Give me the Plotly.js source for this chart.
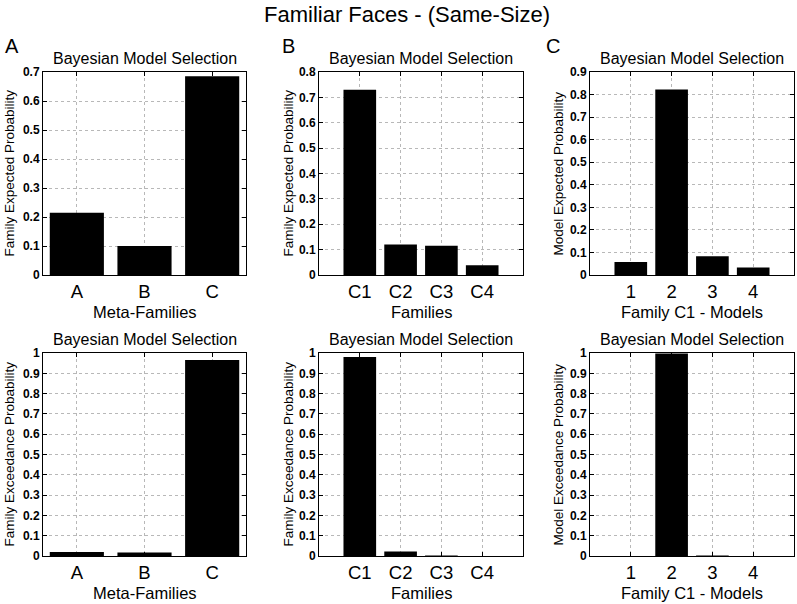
<!DOCTYPE html>
<html><head><meta charset="utf-8">
<script src="https://cdn.plot.ly/plotly-3.0.1.min.js"></script>
<style>html,body{margin:0;padding:0;background:#fff}</style>
</head><body><div id="chart" style="width:797px;height:604px"></div>
<script>
var metaFamilies = ["A", "B", "C"];
var families = ["C1", "C2", "C3", "C4"];
var models = ["1", "2", "3", "4"];
var metaExpected = [0.215, 0.10, 0.685];
var metaExceedance = [0.02, 0.017, 0.965];
var famExpected = [0.73, 0.12, 0.115, 0.038];
var famExceedance = [0.98, 0.022, 0.003, 0.0005];
var modExpected = [0.058, 0.822, 0.083, 0.033];
var modExceedance = [0.0, 0.998, 0.002, 0.0];

var W = 797, H = 604;
var FONT = "Liberation Sans, Arial, sans-serif";
function px(x){return x/W;}
function py(y){return 1 - y/H;}
var cols = [[43,246],[319,523],[590,794]];
var rows = [[72,275],[353,556]];

var panels = [
  {cats: metaFamilies, vals: metaExpected, ymax: 0.7, col:0, row:0, ytitle:"Family Expected Probability", xtitle:"Meta-Families"},
  {cats: families, vals: famExpected, ymax: 0.8, col:1, row:0, ytitle:"Family Expected Probability", xtitle:"Families"},
  {cats: models, vals: modExpected, ymax: 0.9, col:2, row:0, ytitle:"Model Expected Probability", xtitle:"Family C1 - Models"},
  {cats: metaFamilies, vals: metaExceedance, ymax: 1, col:0, row:1, ytitle:"Family Exceedance Probability", xtitle:"Meta-Families"},
  {cats: families, vals: famExceedance, ymax: 1, col:1, row:1, ytitle:"Family Exceedance Probability", xtitle:"Families"},
  {cats: models, vals: modExceedance, ymax: 1, col:2, row:1, ytitle:"Model Exceedance Probability", xtitle:"Family C1 - Models"}
];

var data = [], layout = {
  width: W, height: H, margin:{l:0,r:0,t:0,b:0}, showlegend:false,
  paper_bgcolor:"#fff", plot_bgcolor:"#fff", font:{family:FONT, color:"#000"},
  bargap: 0.2, annotations: []
};
var yTitleX = [9, 288, 558];
var letterX = [12, 288, 553];
panels.forEach(function(p, i){
  var n = i+1, xs = n===1?"":n, xa = "xaxis"+xs, ya = "yaxis"+xs;
  data.push({type:"bar", x:p.cats, y:p.vals, xaxis:"x"+xs, yaxis:"y"+xs,
    width:0.8, marker:{color:"#000", line:{color:"#000", width:0}}, hoverinfo:"x+y"});
  var c = cols[p.col], r = rows[p.row];
  var nc = p.cats.length;
  layout[xa] = {domain:[px(c[0]), px(c[1])], anchor:"y"+xs, type:"category",
    range: nc===3 ? [-0.5, 2.5] : [-1, 4],
    showline:true, mirror:"ticks", linecolor:"#000", linewidth:1,
    ticks:"inside", ticklen:4, tickcolor:"#000",
    showgrid:true, gridcolor:"#b8b8b8", griddash:"dot", gridwidth:1,
    tickfont:{family:FONT, size:18.5, color:"#000"}, fixedrange:true};
  layout[ya] = {domain:[py(r[1]), py(r[0])], anchor:"x"+xs,
    range:[0, p.ymax], dtick:0.1, tick0:0,
    showline:true, mirror:"ticks", linecolor:"#000", linewidth:1,
    ticks:"inside", ticklen:4, tickcolor:"#000",
    showgrid:true, gridcolor:"#b8b8b8", griddash:"dot", gridwidth:1, zeroline:false,
    tickfont:{family:FONT, size:12, color:"#000", weight:"bold"}, fixedrange:true};
  var cx = (c[0]+c[1])/2;
  layout.annotations.push({text:"Bayesian Model Selection", xref:"paper", yref:"paper",
    x:px(cx), y:py(r[0]-14), xanchor:"center", yanchor:"middle", showarrow:false,
    font:{family:FONT, size:16, color:"#000"}});
  layout.annotations.push({text:p.xtitle, xref:"paper", yref:"paper",
    x:px(cx), y:py(r[1]+37), xanchor:"center", yanchor:"middle", showarrow:false,
    font:{family:FONT, size:16.5, color:"#000"}});
  layout.annotations.push({text:p.ytitle, xref:"paper", yref:"paper", textangle:-90,
    x:px(yTitleX[p.col]), y:py((r[0]+r[1])/2), xanchor:"center", yanchor:"middle", showarrow:false,
    font:{family:FONT, size:13.5, color:"#000"}});
});
["A","B","C"].forEach(function(l, k){
  layout.annotations.push({text:l, xref:"paper", yref:"paper", x:px(letterX[k]), y:py(46),
    xanchor:"center", yanchor:"middle", showarrow:false, font:{family:FONT, size:20, color:"#000"}});
});
layout.annotations.push({text:"Familiar Faces - (Same-Size)", xref:"paper", yref:"paper",
  x:px(407), y:py(14), xanchor:"center", yanchor:"middle", showarrow:false,
  font:{family:FONT, size:22, color:"#000"}});

Plotly.newPlot("chart", data, layout, {displayModeBar:false, staticPlot:true});
</script></body></html>
